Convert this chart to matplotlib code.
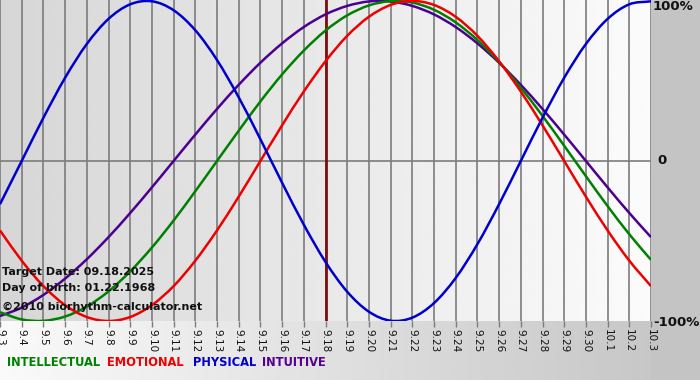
import numpy as np
import matplotlib
matplotlib.use('Agg')
import matplotlib.pyplot as plt
from matplotlib.path import Path
from matplotlib.patches import PathPatch

# days shown on the x axis
day_labels = ['9.3', '9.4', '9.5', '9.6', '9.7', '9.8', '9.9', '9.10', '9.11', '9.12',
              '9.13', '9.14', '9.15', '9.16', '9.17', '9.18', '9.19', '9.20', '9.21', '9.22',
              '9.23', '9.24', '9.25', '9.26', '9.27', '9.28', '9.29', '9.30', '10.1', '10.2', '10.3']

# cycle values per day (-1 .. 1)
physical = [-0.270, 0.000, 0.270, 0.520, 0.731, 0.888, 0.979, 0.998, 0.942, 0.817,
            0.631, 0.398, 0.136, -0.136, -0.398, -0.631, -0.817, -0.942, -0.998, -0.979,
            -0.888, -0.731, -0.520, -0.270, 0.000, 0.270, 0.520, 0.731, 0.888, 0.979, 0.998]
emotional = [-0.434, -0.623, -0.782, -0.901, -0.975, -1.000, -0.975, -0.901, -0.782, -0.623,
             -0.434, -0.223, 0.000, 0.223, 0.434, 0.623, 0.782, 0.901, 0.975, 1.000,
             0.975, 0.901, 0.782, 0.623, 0.434, 0.223, 0.000, -0.223, -0.434, -0.623, -0.782]
intellectual = [-0.945, -0.990, -0.999, -0.972, -0.910, -0.815, -0.690, -0.541, -0.372, -0.189,
                0.000, 0.189, 0.372, 0.541, 0.690, 0.815, 0.910, 0.972, 0.999, 0.990,
                0.945, 0.866, 0.756, 0.618, 0.458, 0.282, 0.095, -0.095, -0.282, -0.458, -0.618]
intuitive = [-0.969, -0.916, -0.837, -0.735, -0.614, -0.476, -0.325, -0.165, 0.000, 0.165,
             0.325, 0.476, 0.614, 0.735, 0.837, 0.916, 0.969, 0.997, 0.997, 0.969,
             0.916, 0.837, 0.735, 0.614, 0.476, 0.325, 0.165, 0.000, -0.165, -0.325, -0.476]

target_idx = 15  # 9.18


def smooth_line(ax, xs, ys, color):
    # curved line through the points (catmull-rom as bezier segments)
    xs = np.asarray(xs, float)
    ys = np.asarray(ys, float)
    px = np.concatenate([[2 * xs[0] - xs[1]], xs, [2 * xs[-1] - xs[-2]]])
    py = np.concatenate([[2 * ys[0] - ys[1]], ys, [2 * ys[-1] - ys[-2]]])
    verts = [(xs[0], ys[0])]
    codes = [Path.MOVETO]
    for i in range(1, len(px) - 2):
        c1 = (px[i] + (px[i + 1] - px[i - 1]) / 6, py[i] + (py[i + 1] - py[i - 1]) / 6)
        c2 = (px[i + 1] - (px[i + 2] - px[i]) / 6, py[i + 1] - (py[i + 2] - py[i]) / 6)
        verts += [c1, c2, (px[i + 1], py[i + 1])]
        codes += [Path.CURVE4] * 3
    ax.add_patch(PathPatch(Path(verts, codes), fill=False, edgecolor=color, lw=1.8, zorder=3))


W, H = 700, 380
fig = plt.figure(figsize=(W / 100, H / 100), dpi=100, facecolor='#c4c4c4')

# background strip under the plot (white -> gray)
bg = fig.add_axes([0, 0, 651 / W, 1 - 321 / H])
bg.imshow(np.linspace(0.98, 0.78, 256).reshape(1, -1), cmap='gray', vmin=0, vmax=1,
          aspect='auto', extent=[0, 1, 0, 1])
bg.axis('off')

ax = fig.add_axes([0, 1 - 321 / H, 651 / W, 321 / H])
ax.imshow(np.linspace(0.84, 0.985, 256).reshape(1, -1), cmap='gray', vmin=0, vmax=1,
          aspect='auto', extent=[0, 1, 0, 1], transform=ax.transAxes, zorder=0)

x = np.arange(len(day_labels))
for xi in x:
    ax.axvline(xi, color='#7c7c7c', lw=1.2, zorder=1)
ax.axhline(0, color='#7c7c7c', lw=1.2, zorder=1)
ax.axvline(target_idx, color='#7a1010', lw=2, zorder=2)

smooth_line(ax, x, intuitive, '#4b0090')
smooth_line(ax, x, intellectual, '#008000')
smooth_line(ax, x, emotional, '#ee0000')
smooth_line(ax, x, physical, '#0000cc')

ax.set_xlim(0, len(day_labels) - 1)
ax.set_ylim(-1, 1.006)
ax.set_yticks([])
ax.set_xticks(x)
ax.set_xticklabels(day_labels, rotation=270, fontsize=7.5, color='#111111')
ax.tick_params(axis='x', length=4, width=1, color='#7c7c7c', pad=2)
for s in ax.spines.values():
    s.set_visible(False)

# info text in the lower left corner
info = dict(fontsize=8, fontweight='bold', color='#111111', transform=fig.transFigure)
fig.text(2 / W, 1 - 272 / H, 'Target Date: 09.18.2025', va='center', **info)
fig.text(2 / W, 1 - 288 / H, 'Day of birth: 01.22.1968', va='center', **info)
fig.text(2 / W, 1 - 307 / H, '\u00a92010 biorhythm-calculator.net', va='center', **info)

# right side percent labels
right = dict(fontsize=9.5, fontweight='bold', color='#111111', va='center')
fig.text(653 / W, 1 - 7 / H, '100%', **right)
fig.text(657 / W, 1 - 161 / H, '0', **right)
fig.text(653 / W, 1 - 322 / H, '-100%', **right)

# legend words
legend = [('INTELLECTUAL', '#008000', 7), ('EMOTIONAL', '#ee0000', 107),
          ('PHYSICAL', '#0000cc', 193), ('INTUITIVE', '#550090', 262)]
for name, col, px in legend:
    fig.text(px / W, 1 - 362 / H, name, color=col, fontsize=8.3, fontweight='bold', va='center')

fig.savefig('out.png', dpi=100, facecolor=fig.get_facecolor())
